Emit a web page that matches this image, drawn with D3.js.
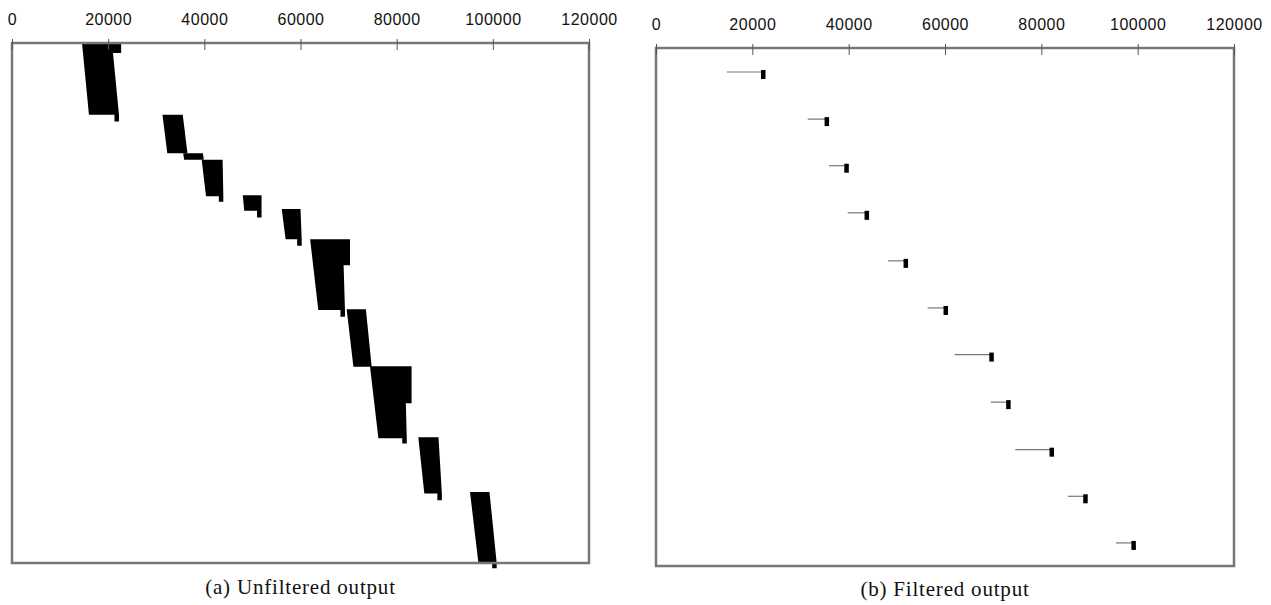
<!DOCTYPE html>
<html>
<head>
<meta charset="utf-8">
<script src="https://cdn.jsdelivr.net/npm/d3@7"></script>
<style>
  body { margin: 0; background: #fff; }
</style>
</head>
<body>
<div id="fig"></div>
<script>
// shared top axis ticks
const xTicks = [0, 20000, 40000, 60000, 80000, 100000, 120000];

// (a) unfiltered output: one slanted block per run (rows 0..1100 top to bottom)
const blockTop = [0, 152, 233, 247, 322, 351, 415, 563, 684, 834, 950];
const blockBottom = [152, 233, 247, 324, 355, 415, 565, 685, 836, 953, 1100];
const leftTop = [14560, 31300, 35600, 39450, 48000, 56100, 62000, 69600, 74450, 84500, 95250];
const leftBottom = [16000, 32300, 35800, 40350, 48300, 56900, 63700, 71000, 76200, 85750, 97000];
const rightTop = [20800, 35500, 39700, 43800, 51900, 60000, 68800, 73600, 81700, 88700, 99300];
const rightBottom = [22250, 36500, 39900, 43950, 51900, 60250, 69250, 74800, 82100, 89400, 100800];
// notch at the top right corner and small drop at the bottom right corner
const tabX = [22700, null, null, null, null, null, 70300, null, 83100, null, null];
const tabRow = [21, null, null, null, null, null, 470, null, 762, null, null];
const dropRow = [166, null, null, 336, 369, 429, 579, null, 847, 967, 1111];

// (b) filtered output: one segment per run
const filtStart = [14700, 31500, 35900, 39800, 48200, 56400, 62000, 69500, 74600, 85500, 95500];
const filtEnd = [21900, 35100, 39200, 43400, 51500, 59800, 69300, 72800, 81800, 88800, 98800];
const filtRow = [51, 151, 250, 350, 452, 552, 651, 752, 853, 952, 1051];

const W = 1271, H = 605;
const frameColor = "#777";

const svg = d3
  .select("#fig")
  .append("svg")
  .attr("width", W)
  .attr("height", H);

const xA = d3.scaleLinear().domain([0, 120000]).range([12, 589]);
const yA = d3.scaleLinear().domain([0, 1100]).range([43, 563]);
const xB = d3.scaleLinear().domain([0, 120000]).range([656, 1234]);
const yB = d3.scaleLinear().domain([0, 1100]).range([48, 566]);

// draws the box and the top axis of one panel
function drawFrame(x, y, caption, captionY) {
  const [x0, x1] = x.range();
  const [y0, y1] = y.range();

  svg
    .append("rect")
    .attr("x", x0)
    .attr("y", y0)
    .attr("width", x1 - x0)
    .attr("height", y1 - y0)
    .style("fill", "none")
    .style("stroke", frameColor)
    .style("stroke-width", 2.5);

  const ax = svg
    .append("g")
    .attr("transform", `translate(0, ${y0})`)
    .call(
      d3.axisTop(x)
        .tickValues(xTicks)
        .tickFormat(d3.format("d"))
        .tickSizeInner(0)
        .tickSizeOuter(0)
        .tickPadding(18)
    );
  ax.select(".domain").remove();
  ax.selectAll(".tick line")
    .attr("y1", -4)
    .attr("y2", 7)
    .attr("stroke", "#555");
  ax.selectAll(".tick text")
    .style("font-family", "'Liberation Sans', Arial, sans-serif")
    .style("font-size", "16px")
    .style("letter-spacing", "0.5px")
    .attr("fill", "#111");

  svg
    .append("text")
    .attr("x", (x0 + x1) / 2)
    .attr("y", captionY)
    .attr("text-anchor", "middle")
    .style("font-family", "'Liberation Serif', 'Times New Roman', serif")
    .style("font-size", "21px")
    .style("letter-spacing", "0.8px")
    .attr("fill", "#111")
    .text(caption);
}

// (a) blocks
const dropW = 4.5;
for (let i = 0; i < blockTop.length; i++) {
  const pts = [];
  pts.push([xA(leftTop[i]), yA(blockTop[i])]);
  if (tabX[i] != null) {
    const t = (tabRow[i] - blockTop[i]) / (blockBottom[i] - blockTop[i]);
    const edge = rightTop[i] + (rightBottom[i] - rightTop[i]) * t;
    pts.push([xA(tabX[i]), yA(blockTop[i])]);
    pts.push([xA(tabX[i]), yA(tabRow[i])]);
    pts.push([xA(edge), yA(tabRow[i])]);
  } else {
    pts.push([xA(rightTop[i]), yA(blockTop[i])]);
  }
  pts.push([xA(rightBottom[i]), yA(blockBottom[i])]);
  if (dropRow[i] != null) {
    pts.push([xA(rightBottom[i]), yA(dropRow[i])]);
    pts.push([xA(rightBottom[i]) - dropW, yA(dropRow[i])]);
    pts.push([xA(rightBottom[i]) - dropW, yA(blockBottom[i])]);
  }
  pts.push([xA(leftBottom[i]), yA(blockBottom[i])]);

  svg
    .append("path")
    .attr("d", d3.line()(pts) + "Z")
    .style("fill", "#000");
}

// (b) segments with end markers
svg
  .append("g")
  .selectAll("line")
  .data(filtRow)
  .enter()
  .append("line")
  .attr("x1", (d, i) => xB(filtStart[i]))
  .attr("x2", (d, i) => xB(filtEnd[i]))
  .attr("y1", (d) => yB(d))
  .attr("y2", (d) => yB(d))
  .style("stroke", "#777")
  .style("stroke-width", 1.2);

svg
  .append("g")
  .selectAll("rect")
  .data(filtRow)
  .enter()
  .append("rect")
  .attr("x", (d, i) => xB(filtEnd[i]) - 0.5)
  .attr("y", (d) => yB(d) - 2)
  .attr("width", 4.5)
  .attr("height", 9)
  .style("fill", "#000");

drawFrame(xA, yA, "(a) Unfiltered output", 594);
drawFrame(xB, yB, "(b) Filtered output", 596);
</script>
</body>
</html>
